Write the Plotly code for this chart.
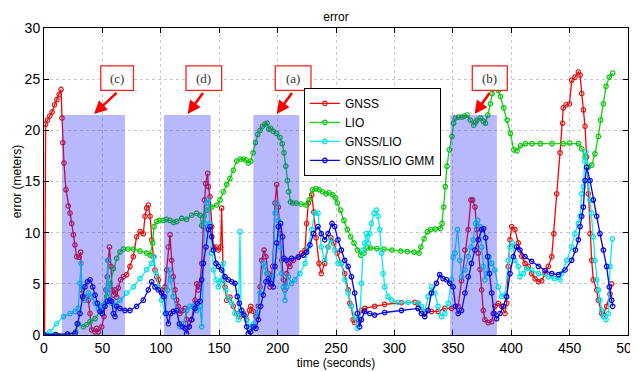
import plotly.graph_objects as go

# ---------------- data ----------------
gnss_t = [0.5, 1.4, 3, 5, 7, 9, 11, 13, 14.6, 15.4, 16, 17.1, 18.8, 20.8, 22.3, 23.7, 25.1, 26.5, 28, 30, 31.4, 32.2,
          33.7, 36, 38, 39.4, 40.8, 43.7, 45, 46.5, 49.4, 51.4, 53, 54.2, 55.1, 56, 57.4, 58.2, 59.4, 60.8, 62.2, 63.6,
          65.6, 68, 70.8, 73.6, 76.5, 79.3, 82.2, 85, 86.5, 87.9, 89.3, 90.8, 92.2, 93.6, 95, 96.5, 97.9, 99.9, 101.6,
          103.6, 105, 106.5, 107.9, 109.3, 110.7, 112.2, 113.6, 115, 116.4, 118.7, 120.7, 122.1, 124.1, 126.4, 129.3,
          130.7, 132.1, 133.6, 135, 136.4, 137.3, 138.4, 140.1, 140.7, 142.1, 143.6, 145, 147.3, 149.3, 151.3, 152.1,
          153.5, 155, 156.4, 159.2, 162.1, 165, 167.8, 170.7, 173.5, 175.8, 177, 179.2, 181.5, 183.5, 185, 186.4,
          188.4, 190, 192, 193.5, 195.8, 197.8, 199.2, 200.6, 202, 203.5, 204.9, 206.3, 207.8, 209.2, 210.6, 213.5,
          217.8, 220.6, 223.5, 224.9, 226.3, 229.2, 231, 233, 235.5, 237.4, 240.3, 243.2, 245.7, 248, 251, 254.6,
          257.5, 260.4, 261.8, 263.2, 264.6, 266, 269, 271.7, 274.6, 283.1, 291.7, 306, 317.5, 320.3, 326, 331.7,
          337.4, 343.2, 348.9, 354.6, 357.5, 360.4, 363.2, 365.5, 367, 369, 370.4, 371.8, 373.3, 374.7, 376.1, 377.5,
          380.4, 383.3, 384.7, 386.1, 389, 391.8, 394.7, 396.1, 397.5, 399, 400.4, 403.2, 406.1, 409, 411.8, 414.7,
          417.5, 420.4, 423.3, 426.1, 429, 431.8, 434.7, 436.5, 439, 441.8, 444, 444.6, 447, 449.9, 451.8, 454.6,
          457.5, 459, 460.4, 461.8, 463.2, 464.6, 466, 467.5, 468.9, 470.3, 473.2, 474.6, 477.5, 478.9, 481.7, 484.6,
          486]
gnss_e = [0.0, 20.6, 21.0, 21.4, 21.8, 22.5, 23.0, 23.5, 24.0, 21.2, 18.8, 16.8, 14.2, 12.6, 11.9, 10.9, 9.8, 8.8,
          7.65, 7.6, 8.1, 4.4, 3.6, 3.7, 3.4, 2.1, 0.5, 0.3, 0.65, 0.3, 0.8, 1.8, 4.4, 5.7, 7.3, 8.6, 6.7, 4.4, 3.9,
          4.4, 3.7, 4.6, 5.4, 5.7, 5.9, 6.7, 7.65, 9.6, 10.1, 9.9, 11.6, 12.4, 12.7, 11.6, 9.3, 7.65, 6.35, 5.7, 5.4,
          4.4, 3.75, 4.7, 6.35, 8.6, 9.8, 7.3, 5.7, 4.4, 3.4, 2.8, 2.1, 2.4, 2.6, 1.5, 0.8, 1.5, 3.4, 5.0, 4.4, 5.0,
          7.0, 10.6, 13.2, 14.8, 15.8, 14.5, 13.5, 10.6, 8.6, 8.6, 8.3, 8.6, 12.4, 5.4, 4.7, 3.4, 3.7, 2.8, 2.1, 1.8,
          2.1, 1.5, 2.4, 2.8, 2.3, 1.8, 2.8, 4.7, 7.3, 8.3, 7.65, 6.0, 4.7, 6.7, 12.9, 14.7, 12.5, 9.9, 7.3, 5.4, 4.4,
          6.0, 7.0, 6.7, 7.3, 7.65, 8.0, 8.3, 10.9, 12.9, 13.7, 12.0, 9.5, 7.0, 6.0, 7.0, 8.6, 9.5, 9.0, 8.0, 7.0,
          6.0, 4.4, 3.1, 2.8, 1.5, 1.2, 1.5, 2.4, 2.6, 2.8, 3.0, 3.15, 3.2, 3.0, 2.1, 2.3, 2.3, 2.6, 2.6, 2.8, 5.3,
          8.3, 10.3, 13.2, 13.2, 12.5, 10.3, 8.0, 6.4, 4.4, 2.4, 1.5, 1.2, 1.3, 2.1, 2.8, 3.1, 2.8, 2.1, 3.1, 6.7,
          9.3, 10.6, 10.3, 9.0, 7.7, 7.0, 6.7, 6.0, 5.5, 5.2, 5.3, 6.0, 6.7, 7.65, 9.9, 13.8, 17.8, 20.7, 22.2, 22.5,
          22.6, 24.9, 25.2, 25.7, 25.4, 23.6, 22.0, 20.4, 17.4, 13.8, 9.9, 7.3, 5.4, 4.4, 3.4, 2.1, 2.0, 2.8, 4.0,
          5.0]

lio_t = [0, 10, 20, 27, 29.4, 33.7, 36.5, 39.4, 43.7, 48, 50.8, 53.7, 56.5, 59.4, 62.2, 65, 68, 72, 76.5, 82.2,
         87.9, 90.8, 93, 94.2, 96.5, 99, 102.2, 105, 107.9, 111, 113.6, 117.9, 122.1, 126.4, 130.7, 133.6, 135, 137,
         139.3, 143.6, 147.8, 150.7, 153.5, 156.4, 159.2, 162.1, 165, 168, 170.7, 173, 175, 177, 179, 181, 183, 185,
         187, 189, 191, 192.5, 194, 196.3, 199.2, 202, 204, 205.5, 207, 208.4, 209.5, 211, 213, 216, 220, 224.3,
         227.1, 230, 232.9, 235.7, 238.6, 241.5, 244, 247.2, 249.5, 251.1, 254, 256.8, 259.7, 262.6, 265.4, 268.3,
         271.1, 274, 276.8, 279.7, 285, 291.1, 298, 305.4, 311, 316.8, 321.1, 322.6, 325.4, 328.3, 331.1, 335,
         339.3, 340.8, 342.2, 343.6, 345, 347, 349.3, 350.7, 352.2, 355, 357.9, 360, 362.2, 365, 367.9, 369.5,
         370.7, 373.6, 376, 377.9, 380, 382.2, 383.6, 385, 387, 389, 390.8, 393.6, 396.5, 399.3, 402.2, 405, 407.9,
         412.2, 417.9, 425, 435, 444.6, 450, 457.5, 460.4, 463.2, 466, 468.9, 471.7, 474.6, 476.6, 478.9, 481.2,
         484, 486.9]
lio_e = [0.05, 0.05, 0.1, 0.3, 1.1, 0.8, 1.0, 1.3, 1.6, 2.3, 2.9, 3.75, 5.0, 6.5, 7.5, 8.1, 8.4, 8.4, 8.4, 8.2, 8.0,
         7.8, 9.0, 10.6, 11.1, 11.2, 11.2, 11.3, 11.2, 11.0, 11.1, 11.4, 11.3, 11.7, 11.9, 11.7, 10.7, 11.6, 12.2,
         12.5, 12.7, 13.2, 14.0, 14.7, 15.3, 16.1, 17.0, 17.2, 17.2, 17.1, 16.8, 17.0, 17.8, 18.8, 19.6, 20.0, 20.4,
         20.6, 20.7, 20.1, 20.2, 19.9, 19.7, 19.3, 18.7, 17.8, 16.5, 15.1, 14.0, 13.0, 12.9, 12.9, 12.8, 12.7, 13.2,
         14.2, 14.3, 14.2, 14.0, 13.8, 13.9, 13.7, 13.4, 12.9, 12.2, 11.2, 10.3, 9.6, 9.0, 8.3, 7.8, 8.0, 8.5, 8.5,
         8.45, 8.4, 8.3, 8.2, 8.15, 8.1, 8.0, 8.6, 9.4, 10.1, 10.3, 10.35, 10.4, 10.9, 12.5, 14.5, 16.5, 18.1, 19.4,
         20.7, 21.2, 21.3, 21.3, 21.4, 21.5, 21.0, 20.5, 20.8, 21.0, 21.2, 20.9, 20.7, 21.5, 22.6, 23.6, 24.1, 24.3,
         23.9, 23.3, 22.2, 21.0, 19.7, 18.1, 18.0, 18.5, 18.7, 18.7, 18.7, 18.7, 18.7, 18.75, 18.7, 18.2, 17.4,
         16.4, 16.6, 17.7, 19.4, 21.0, 22.6, 24.3, 25.2, 25.6]

gl_t = [0, 5, 10.8, 16.6, 22.3, 26.5, 29.4, 30.8, 31.7, 32.5, 35.1, 38, 40.8, 43.7, 46.5, 49.4, 52.2, 53.7, 54.5,
        55.4, 57.9, 60.8, 65, 70.8, 76.5, 82.2, 87.9, 92.2, 94.2, 95.9, 97.9, 100.7, 103.6, 105.6, 107.3, 108.4,
        110.7, 113.6, 116.4, 119.3, 122.1, 125, 127.9, 130.7, 133.6, 135, 136.4, 137.8, 139.3, 140.7, 142.1, 143.6,
        145, 147.3, 149.3, 150.7, 152.1, 153.5, 155.8, 157.8, 160.7, 163.5, 166.4, 167.8, 168.7, 170.7, 173.5,
        176.4, 179.2, 182.1, 185, 187.8, 189.2, 190.6, 193.5, 195.8, 197.8, 199.2, 200.6, 202, 203.5, 204.9, 206.3,
        207.8, 209.2, 212, 214.9, 219.2, 223.5, 226.3, 229.2, 232, 234.6, 237.4, 240.3, 243.2, 246, 248.9, 251.7,
        254.6, 257.5, 260.4, 263.2, 266, 268.3, 270.3, 271.7, 273.2, 274.6, 276, 277.5, 278.9, 280.3, 282.6, 284.6,
        286, 287.5, 288.9, 290.3, 291.7, 294.6, 297.5, 303.2, 311.8, 320.3, 323.1, 326, 328.8, 331.7, 334.6, 337.4,
        340.3, 343.2, 346, 348.9, 350.3, 351.7, 354, 356, 357.5, 360.4, 363.2, 365.5, 367.5, 369.5, 371.2, 373.3,
        374.7, 376.1, 377.5, 379, 381, 383.3, 386.1, 389, 391.8, 394.7, 397.5, 399, 401, 403.2, 406.1, 407.5,
        410.4, 413.2, 417.5, 423.3, 431.8, 437, 441.8, 443.2, 447.6, 451.8, 454.6, 457.5, 459, 460.4, 461.8, 463,
        464, 466, 467.5, 468.9, 470.3, 471.7, 473.2, 474.6, 476, 477.5, 478.9, 481.2, 483.2, 484.6, 486.6]
gl_e = [0, 0.3, 1.1, 1.8, 2.1, 2.3, 2.6, 5.05, 7.0, 4.7, 3.4, 4.1, 3.7, 3.1, 2.6, 2.8, 3.1, 4.4, 7.3, 4.7, 3.1, 2.9,
        3.4, 4.1, 4.7, 5.5, 6.4, 7.0, 7.65, 6.0, 4.7, 3.4, 2.1, 4.4, 6.35, 5.4, 3.75, 2.4, 0.8, 1.1, 2.4, 2.8, 2.8,
        2.4, 2.8, 0.8, 7.0, 10.9, 12.9, 13.2, 10.9, 8.0, 6.35, 5.4, 4.7, 5.05, 5.4, 7.0, 4.4, 3.6, 3.1, 2.1, 1.5,
        10.1, 2.1, 2.1, 1.5, 0.8, 1.1, 2.1, 4.1, 7.0, 6.7, 6.0, 5.4, 5.7, 11.9, 12.9, 11.2, 8.6, 6.0, 4.7, 3.4, 4.7,
        5.7, 5.05, 5.4, 6.0, 7.0, 8.6, 10.3, 11.9, 11.9, 8.6, 7.3, 8.6, 9.3, 8.3, 7.0, 7.0, 5.4, 4.1, 2.8, 1.8,
        0.65, 1.5, 5.05, 8.3, 9.0, 9.9, 9.0, 9.9, 10.9, 11.9, 12.2, 11.6, 10.3, 8.0, 6.0, 4.7, 3.75, 3.4, 3.2,
        3.2, 3.15, 2.8, 2.3, 3.75, 4.7, 4.1, 2.8, 1.8, 2.1, 3.1, 5.4, 7.6, 8.0, 10.3, 7.3, 5.7, 6.35, 7.65, 8.6,
        9.3, 10.9, 11.2, 10.6, 8.6, 6.7, 5.4, 6.0, 7.65, 7.0, 6.35, 4.7, 3.75, 3.9, 7.3, 8.6, 9.0, 7.3, 6.7, 5.7,
        6.0, 6.5, 6.35, 6.0, 5.7, 5.5, 5.4, 6.0, 7.3, 8.6, 9.9, 10.9, 11.6, 13.8, 14.5, 17.0, 17.9, 15.1, 13.2,
        11.9, 9.6, 7.3, 5.4, 4.4, 3.4, 2.4, 1.8, 1.5, 2.1, 6.7, 9.4]

gmm_t = [0, 10, 20, 26.5, 28.5, 30.8, 33.1, 35.1, 37.1, 39.4, 41.7, 43.7, 45.7, 48, 49.9, 52.2, 54.2, 56.5, 57.9,
         59.4, 60.8, 62.2, 65, 69.3, 73.6, 79.3, 85, 89.3, 92.2, 95, 97.9, 100.7, 102.7, 104.5, 106.5, 108.4, 110.7,
         113.6, 115.9, 118.7, 120.7, 122.1, 124.4, 126.4, 129.3, 131.3, 133.6, 135, 136.4, 138.7, 140.7, 142.1,
         143.6, 145, 147.3, 149.3, 152.1, 155, 157.8, 160.7, 163.5, 165.5, 167.2, 169.2, 171.2, 173.5, 174.9, 176.9,
         179.2, 181.5, 183.5, 185.5, 187.8, 190, 192, 194, 196.3, 197.8, 199.2, 200.6, 202.6, 204.3, 205.5, 207.8,
         212, 217.8, 222.1, 224.9, 227.7, 230.6, 234.6, 237.4, 240.3, 243.2, 246.6, 248.9, 251.7, 254.6, 257.5,
         260.4, 263.2, 266, 268.3, 270.3, 271.7, 274.6, 278.9, 283.1, 291.7, 306, 320.3, 323.1, 326, 328.8, 331.7,
         336, 338.8, 341.7, 344.6, 347.4, 350.3, 352.3, 354.6, 357.5, 360.4, 363.2, 366, 368.9, 371.8, 374.7, 376.4,
         378.1, 379.8, 381.5, 383.3, 385.3, 387.5, 390.4, 393.2, 396.1, 399, 401.8, 404.6, 407.5, 411.8, 417.5,
         423.3, 429, 434.7, 440.4, 446.1, 451.8, 455, 457.5, 459, 460.4, 461.8, 463.2, 464.6, 467.5, 470.3, 473.2,
         476, 478.9, 481.7, 484, 486, 486.9]
gmm_e = [0.05, 0.05, 0.1, 0.15, 1.1, 2.1, 3.75, 4.7, 5.2, 5.4, 4.7, 3.9, 3.1, 2.3, 2.1, 2.8, 3.3, 3.4, 3.3, 2.1, 1.8,
         2.8, 2.6, 2.4, 2.4, 2.8, 3.4, 4.4, 5.2, 4.7, 4.4, 4.1, 3.75, 2.1, 1.1, 2.1, 2.3, 2.4, 1.1, 0.8, 0.65, 0.15,
         0.8, 1.5, 2.6, 3.1, 3.3, 5.4, 7.0, 8.6, 10.3, 10.6, 9.6, 8.3, 7.0, 6.7, 6.35, 5.7, 5.4, 5.2, 5.05, 3.75,
         3.1, 2.4, 1.95, 0.8, 0.15, 0.3, 0.8, 0.65, 1.5, 2.8, 3.9, 5.2, 5.5, 5.05, 4.7, 6.7, 9.0, 10.6, 10.9, 9.6,
         7.5, 7.3, 7.5, 7.6, 7.8, 8.1, 8.8, 9.9, 10.6, 9.9, 9.3, 9.9, 10.9, 10.6, 9.3, 8.3, 7.3, 6.7, 5.7, 4.1,
         2.1, 0.8, 1.5, 2.3, 2.1, 1.95, 2.2, 2.4, 2.6, 2.1, 1.8, 2.4, 4.1, 5.05, 5.9, 5.5, 5.4, 5.05, 4.7, 2.8, 2.1,
         2.4, 4.1, 5.7, 7.0, 8.3, 9.3, 10.3, 10.4, 9.5, 7.65, 6.0, 4.1, 2.1, 1.6, 2.1, 2.8, 3.75, 6.0, 7.65, 8.6,
         8.3, 7.65, 7.2, 6.7, 6.3, 6.0, 5.9, 6.35, 7.3, 8.3, 9.3, 10.6, 11.6, 12.5, 15.1, 16.4, 15.1, 13.2, 11.6,
         9.9, 8.3, 6.7, 4.7, 3.4, 2.8]

series_names = ["GNSS", "LIO", "GNSS/LIO", "GNSS/LIO GMM"]
series_colors = ["#ff0000", "#00e000", "#00f0f0", "#0000ff"]
marker_colors = ["#d81818", "#10c010", "#00e0e0", "#0000e0"]

# highlighted intervals (seconds) and their labels
region_x0 = [15.4, 102.7, 179.2, 347.8]
region_x1 = [69.3, 142.7, 218.6, 387.8]
region_top = 21.5
region_labels = ["(c)", "(d)", "(a)", "(b)"]

x_ticks = [0, 50, 100, 150, 200, 250, 300, 350, 400, 450, 500]
y_ticks = [0, 5, 10, 15, 20, 25, 30]

# label box / arrow geometry (data units)
box_x0 = [48.6, 121.6, 198.0, 366.7]
box_x1 = [76.6, 152.1, 228.6, 396.7]
box_y0, box_y1 = 23.9, 26.3
arrow_tail_x = [63.4, 137.0, 213.2, 382.4]
arrow_tip_x = [42.8, 123.0, 199.2, 368.7]
arrow_tail_y, arrow_tip_y = 23.8, 21.6

# ---------------- figure ----------------
fig = go.Figure()
for name, col, mcol, xs, ys in zip(series_names, series_colors, marker_colors,
                                  [gnss_t, lio_t, gl_t, gmm_t], [gnss_e, lio_e, gl_e, gmm_e]):
    fig.add_trace(go.Scatter(
        x=xs, y=ys, name=name, mode="lines+markers",
        line=dict(color=col, width=1.3),
        marker=dict(symbol="circle-open", size=4.5, color=mcol, line=dict(width=1.2, color=mcol)),
    ))

shapes = []
for x0, x1 in zip(region_x0, region_x1):
    shapes.append(dict(type="rect", xref="x", yref="y", x0=x0, x1=x1, y0=0, y1=region_top,
                       fillcolor="rgba(40,40,255,0.33)", line=dict(width=0), layer="above"))
for x0, x1 in zip(box_x0, box_x1):
    shapes.append(dict(type="rect", xref="x", yref="y", x0=x0, x1=x1, y0=box_y0, y1=box_y1,
                       fillcolor="white", line=dict(color="#ff2020", width=1.3), layer="above"))

annotations = []
for lab, x0, x1, tx, hx in zip(region_labels, box_x0, box_x1, arrow_tail_x, arrow_tip_x):
    annotations.append(dict(x=(x0 + x1) / 2, y=(box_y0 + box_y1) / 2, xref="x", yref="y", text=lab,
                            showarrow=False, font=dict(family="Liberation Serif", size=13, color="#333333")))
    annotations.append(dict(x=hx, y=arrow_tip_y, ax=tx, ay=arrow_tail_y, xref="x", yref="y",
                            axref="x", ayref="y", text="", showarrow=True, arrowhead=2, arrowsize=1,
                            arrowwidth=2.6, arrowcolor="#ff0000", standoff=0))

axis_common = dict(showline=True, linecolor="black", linewidth=1, mirror="ticks", ticks="inside",
                   ticklen=5, tickcolor="black", showgrid=True, gridcolor="#c8c8c8", griddash="dot",
                   gridwidth=1, zeroline=False, automargin=False, ticklabeloverflow="allow",
                   tickfont=dict(family="Liberation Sans", size=14, color="black"))

# the page body adds an 8 px offset, so the figure is sized 630 x 364
fig.update_layout(
    width=630, height=364,
    margin=dict(l=36, r=10, t=20, b=37),
    paper_bgcolor="white", plot_bgcolor="white",
    title=dict(text="error", x=0.5, xref="paper", y=1 - 9 / 364, yanchor="middle",
               font=dict(family="Liberation Sans", size=12, color="black")),
    xaxis=dict(range=[0, 500], tickvals=x_ticks,
               title=dict(text="time (seconds)", font=dict(family="Liberation Sans", size=12, color="black"),
                          standoff=2),
               **axis_common),
    yaxis=dict(range=[0, 30], tickvals=y_ticks,
               title=dict(text="error (meters)", font=dict(family="Liberation Sans", size=12, color="black"),
                          standoff=0),
               **axis_common),
    legend=dict(x=0.445, y=0.805, xanchor="left", yanchor="top", bgcolor="white", bordercolor="black",
                borderwidth=1, font=dict(family="Liberation Sans", size=12, color="black"),
                tracegroupgap=0, itemwidth=30),
    shapes=shapes, annotations=annotations, showlegend=True,
)

fig.write_html("out.html")
